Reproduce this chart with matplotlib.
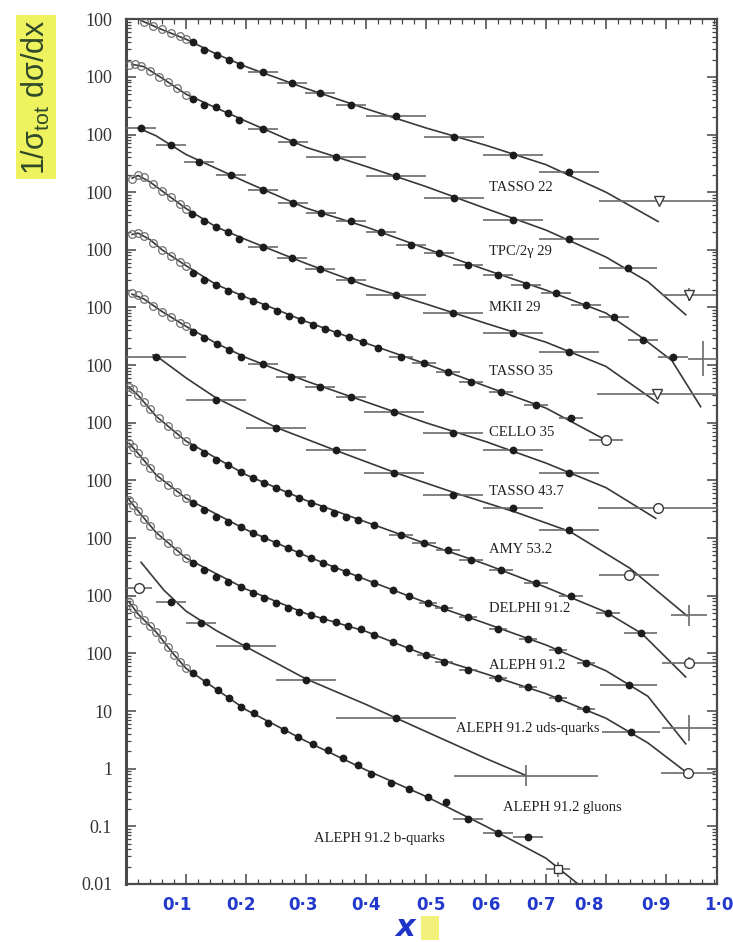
import numpy as np
import matplotlib
matplotlib.use("Agg")
import matplotlib.pyplot as plt
import matplotlib.ticker as ticker
from matplotlib.patches import Rectangle

plt.rcParams['font.family'] = ['Liberation Serif', 'DejaVu Serif']

# ---------------------------------------------------------------------------
# Fragmentation functions 1/sigma dsigma/dx.  Each set is given in its own
# units and is multiplied by 10**k when drawn (k = 11 for the top set ... 0).
# ---------------------------------------------------------------------------
names = ["TASSO 22", "TPC/2γ 29", "MKII 29", "TASSO 35", "CELLO 35",
         "TASSO 43.7", "AMY 53.2", "DELPHI 91.2", "ALEPH 91.2",
         "ALEPH 91.2 uds-quarks", "ALEPH 91.2 gluons", "ALEPH 91.2 b-quarks"]
decade_shift = [11, 10, 9, 8, 7, 6, 5, 4, 3, 2, 1, 0]

# TASSO 22
t22_open_x = [0.03, 0.045, 0.06, 0.075, 0.09, 0.10]
t22_open_y = [89, 75, 67, 57, 51, 45]
t22_x = [0.112, 0.13, 0.152, 0.172, 0.19, 0.228, 0.277, 0.323, 0.375, 0.45, 0.547, 0.645, 0.738]
t22_y = [40, 29, 24, 19.4, 15.8, 12, 7.7, 5.2, 3.3, 2.1, 0.92, 0.45, 0.22]
t22_xerr = [0, 0, 0, 0, 0, 0.025, 0.025, 0.025, 0.025, 0.05, 0.05, 0.05, 0.05]
t22_end_x, t22_end_y, t22_end_xerr = [0.888], [0.069], [0.1]
t22_end_ylo, t22_end_yhi = [0.069], [0.069]
t22_fit_x = [0.015, 0.03, 0.06, 0.1, 0.15, 0.2, 0.3, 0.4, 0.5, 0.6, 0.7, 0.8, 0.887]
t22_fit_y = [110, 90, 66, 45, 25, 15, 6.3, 2.8, 1.3, 0.65, 0.3, 0.1, 0.031]

# TPC/2gamma 29
tpc_open_x = [0.005, 0.015, 0.025, 0.04, 0.055, 0.07, 0.085, 0.1]
tpc_open_y = [160, 170, 155, 125, 100, 80, 63, 48]
tpc_x = [0.112, 0.13, 0.15, 0.17, 0.188, 0.228, 0.278, 0.35, 0.45, 0.547, 0.645, 0.738, 0.837]
tpc_y = [41, 33, 30, 24, 18, 12.3, 7.3, 4.0, 1.9, 0.78, 0.33, 0.157, 0.049]
tpc_xerr = [0, 0, 0, 0, 0, 0.025, 0.025, 0.05, 0.05, 0.05, 0.05, 0.05, 0.048]
tpc_end_x, tpc_end_y, tpc_end_xerr = [0.938], [0.0167], [0.045]
tpc_end_ylo, tpc_end_yhi = [0.0127], [0.022]
tpc_fit_x = [0.01, 0.03, 0.06, 0.1, 0.15, 0.2, 0.3, 0.4, 0.5, 0.6, 0.7, 0.8, 0.87, 0.933]
tpc_fit_y = [165, 150, 95, 50, 29, 17, 6.0, 2.8, 1.25, 0.52, 0.22, 0.075, 0.028, 0.0075]

# MKII 29
mk2_open_x, mk2_open_y = [], []
mk2_x = [0.025, 0.075, 0.122, 0.175, 0.228, 0.278, 0.325, 0.375, 0.425, 0.475,
         0.522, 0.57, 0.62, 0.667, 0.717, 0.767, 0.813, 0.862, 0.912]
mk2_y = [132, 67, 34, 20, 11, 6.6, 4.4, 3.1, 2.0, 1.22,
         0.89, 0.55, 0.37, 0.25, 0.18, 0.11, 0.069, 0.027, 0.014]
mk2_xerr = [0.025] * 19
mk2_end_x, mk2_end_y, mk2_end_xerr = [0.962], [0.013], [0.025]
mk2_end_ylo, mk2_end_yhi = [0.0065], [0.026]
mk2_fit_x = [0.02, 0.05, 0.1, 0.2, 0.3, 0.4, 0.5, 0.6, 0.7, 0.8, 0.86, 0.91, 0.958]
mk2_fit_y = [130, 95, 45, 15, 5.3, 2.5, 1.05, 0.45, 0.2, 0.08, 0.03, 0.012, 0.0019]

# TASSO 35
t35_open_x = [0.01, 0.02, 0.03, 0.045, 0.06, 0.075, 0.09, 0.1]
t35_open_y = [170, 200, 180, 140, 105, 82, 62, 52]
t35_x = [0.11, 0.13, 0.15, 0.17, 0.188, 0.228, 0.277, 0.323, 0.375, 0.45, 0.545, 0.645, 0.738]
t35_y = [41, 32, 25, 20, 15.7, 11.4, 7.3, 4.7, 3.0, 1.67, 0.81, 0.36, 0.17]
t35_xerr = [0, 0, 0, 0, 0, 0.025, 0.025, 0.025, 0.025, 0.05, 0.05, 0.05, 0.05]
t35_end_x, t35_end_y, t35_end_xerr = [0.885], [0.031], [0.1]
t35_end_ylo, t35_end_yhi = [0.031], [0.031]
t35_fit_x = [0.01, 0.02, 0.04, 0.07, 0.1, 0.15, 0.2, 0.3, 0.4, 0.5, 0.6, 0.7, 0.8, 0.887]
t35_fit_y = [175, 195, 150, 88, 52, 25, 15, 5.8, 2.4, 1.15, 0.53, 0.25, 0.095, 0.022]

# CELLO 35
cel_open_x = [0.01, 0.02, 0.03, 0.045, 0.06, 0.075, 0.09, 0.1]
cel_open_y = [190, 196, 175, 132, 100, 79, 62, 53]
cel_x = [0.112, 0.13, 0.15, 0.17, 0.192, 0.212, 0.232, 0.252, 0.272, 0.292, 0.312, 0.332,
         0.352, 0.372, 0.395, 0.42, 0.458, 0.497, 0.537, 0.575, 0.625, 0.683, 0.742]
cel_y = [40, 30, 25, 19.5, 16, 13.1, 10.7, 8.8, 7.2, 6.1, 5.0, 4.3,
         3.6, 3.1, 2.5, 2.0, 1.39, 1.1, 0.76, 0.51, 0.34, 0.2, 0.12]
cel_xerr = [0] * 16 + [0.02] * 7
cel_end_x, cel_end_y, cel_end_xerr = [0.80], [0.05], [0.028]
cel_end_ylo, cel_end_yhi = [0.05], [0.05]
cel_fit_x = [0.01, 0.02, 0.04, 0.06, 0.1, 0.15, 0.2, 0.3, 0.4, 0.5, 0.6, 0.7, 0.8]
cel_fit_y = [185, 195, 150, 100, 53, 25, 15, 5.7, 2.4, 1.05, 0.43, 0.18, 0.05]

# TASSO 43.7
t43_open_x = [0.01, 0.02, 0.03, 0.045, 0.06, 0.075, 0.09, 0.1]
t43_open_y = [175, 162, 138, 108, 85, 67, 53, 47]
t43_x = [0.112, 0.13, 0.152, 0.172, 0.192, 0.228, 0.275, 0.323, 0.375, 0.447, 0.545, 0.645, 0.738]
t43_y = [38, 30, 23.5, 18.5, 14, 10.5, 6.3, 4.2, 2.8, 1.55, 0.67, 0.34, 0.135]
t43_xerr = [0, 0, 0, 0, 0, 0.025, 0.025, 0.025, 0.025, 0.05, 0.05, 0.05, 0.05]
t43_end_x, t43_end_y, t43_end_xerr = [0.887], [0.033], [0.1]
t43_end_ylo, t43_end_yhi = [0.033], [0.033]
t43_fit_x = [0.01, 0.03, 0.06, 0.1, 0.15, 0.2, 0.3, 0.4, 0.5, 0.6, 0.7, 0.8, 0.883]
t43_fit_y = [170, 140, 85, 47, 24, 13.5, 5.3, 2.3, 1.0, 0.47, 0.2, 0.075, 0.022]

# AMY 53.2
amy_open_x, amy_open_y = [], []
amy_x = [0.05, 0.15, 0.25, 0.35, 0.447, 0.545, 0.645, 0.738]
amy_y = [139, 25, 8.1, 3.4, 1.34, 0.56, 0.33, 0.137]
amy_xerr = [0.05] * 8
amy_end_x, amy_end_y, amy_end_xerr = [0.838, 0.938], [0.023, 0.0046], [0.05, 0.03]
amy_end_ylo, amy_end_yhi = [0.023, 0.003], [0.023, 0.0069]
amy_fit_x = [0.045, 0.053, 0.1, 0.15, 0.25, 0.35, 0.45, 0.55, 0.65, 0.74, 0.84, 0.935]
amy_fit_y = [150, 138, 60, 27, 8.3, 3.3, 1.35, 0.6, 0.28, 0.13, 0.03, 0.0045]

# DELPHI 91.2
del_open_x = [0.005, 0.012, 0.02, 0.03, 0.04, 0.055, 0.07, 0.085, 0.1]
del_open_y = [420, 380, 300, 225, 170, 120, 88, 65, 48]
del_x = [0.112, 0.13, 0.15, 0.17, 0.192, 0.212, 0.23, 0.25, 0.27, 0.288, 0.308, 0.328, 0.347,
         0.367, 0.387, 0.413, 0.458, 0.497, 0.537, 0.575, 0.625, 0.683, 0.742, 0.803, 0.858]
del_y = [38, 30, 22.6, 18.5, 14, 11, 9.0, 7.4, 6.1, 5.0, 4.1, 3.3, 2.7,
         2.3, 2.05, 1.68, 1.13, 0.82, 0.62, 0.41, 0.28, 0.165, 0.10, 0.05, 0.023]
del_xerr = [0] * 16 + [0.02] * 8 + [0.028]
del_end_x, del_end_y, del_end_xerr = [0.938], [0.0067], [0.045]
del_end_ylo, del_end_yhi = [0.0053], [0.0085]
del_fit_x = [0.005, 0.02, 0.05, 0.1, 0.2, 0.3, 0.4, 0.5, 0.6, 0.7, 0.8, 0.86, 0.933]
del_fit_y = [420, 300, 130, 48, 12.5, 4.5, 1.9, 0.8, 0.35, 0.14, 0.052, 0.022, 0.0039]

# ALEPH 91.2
ale_open_x = [0.005, 0.012, 0.02, 0.03, 0.04, 0.055, 0.07, 0.085, 0.1]
ale_open_y = [440, 375, 295, 214, 162, 113, 82, 62, 49]
ale_x = [0.112, 0.13, 0.15, 0.17, 0.192, 0.212, 0.23, 0.25, 0.27, 0.288, 0.308, 0.328, 0.347,
         0.367, 0.387, 0.413, 0.445, 0.472, 0.503, 0.53, 0.57, 0.62, 0.67, 0.72, 0.767, 0.838]
ale_y = [40, 30.6, 23, 18.9, 15.5, 12.2, 10, 8.2, 6.7, 5.5, 4.5, 3.7, 3.0,
         2.6, 2.1, 1.65, 1.25, 0.98, 0.74, 0.61, 0.42, 0.27, 0.18, 0.113, 0.067, 0.028]
ale_xerr = [0] * 18 + [0.015] * 7 + [0.048]
ale_end_x, ale_end_y, ale_end_xerr = [0.938], [0.005], [0.045]
ale_end_ylo, ale_end_yhi = [0.003], [0.0085]
ale_fit_x = [0.005, 0.02, 0.05, 0.1, 0.2, 0.3, 0.4, 0.5, 0.6, 0.7, 0.8, 0.87, 0.933]
ale_fit_y = [440, 295, 125, 49, 14, 4.9, 1.9, 0.76, 0.33, 0.14, 0.05, 0.018, 0.0027]

# ALEPH 91.2 uds-quarks
uds_open_x = [0.005, 0.012, 0.02, 0.03, 0.04, 0.055, 0.07, 0.085, 0.1]
uds_open_y = [460, 375, 295, 214, 162, 113, 82, 59, 45]
uds_x = [0.112, 0.13, 0.15, 0.17, 0.192, 0.212, 0.23, 0.25, 0.27, 0.288, 0.308, 0.328, 0.35,
         0.37, 0.392, 0.413, 0.445, 0.472, 0.5, 0.53, 0.57, 0.62, 0.67, 0.72, 0.767, 0.842]
uds_y = [37, 28, 21, 17.2, 14.1, 11.1, 9.1, 7.4, 6.1, 5.3, 4.6, 4.0, 3.5,
         3.0, 2.6, 2.06, 1.56, 1.23, 0.93, 0.72, 0.52, 0.38, 0.26, 0.166, 0.11, 0.043]
uds_xerr = [0] * 18 + [0.015] * 7 + [0.048]
uds_end_x, uds_end_y, uds_end_xerr = [0.937], [0.0083], [0.045]
uds_end_ylo, uds_end_yhi = [0.0083], [0.0083]
uds_fit_x = [0.005, 0.02, 0.05, 0.1, 0.2, 0.3, 0.4, 0.5, 0.6, 0.7, 0.8, 0.87, 0.937]
uds_fit_y = [460, 295, 125, 45, 13, 4.9, 2.4, 0.93, 0.44, 0.2, 0.075, 0.028, 0.0082]

# ALEPH 91.2 gluons
glu_open_x, glu_open_y = [], []
glu_x = [0.075, 0.125, 0.2, 0.3, 0.45]
glu_y = [77, 33, 13.3, 3.5, 0.77]
glu_xerr = [0.025, 0.025, 0.05, 0.05, 0.1]
glu_end_x, glu_end_y, glu_end_xerr = [0.022, 0.667], [135, 0.076], [0.022, 0.12]
glu_end_ylo, glu_end_yhi = [135, 0.05], [135, 0.115]
glu_fit_x = [0.025, 0.063, 0.1, 0.15, 0.2, 0.3, 0.4, 0.5, 0.6, 0.667]
glu_fit_y = [380, 125, 54, 25, 13, 3.6, 1.3, 0.44, 0.15, 0.076]

# ALEPH 91.2 b-quarks
bq_open_x = [0.005, 0.012, 0.02, 0.03, 0.04, 0.05, 0.06, 0.07, 0.08, 0.09, 0.1]
bq_open_y = [780, 620, 480, 380, 300, 235, 180, 130, 95, 70, 55]
bq_x = [0.112, 0.133, 0.153, 0.172, 0.192, 0.213, 0.237, 0.263, 0.287, 0.312, 0.337,
        0.362, 0.387, 0.408, 0.442, 0.472, 0.503, 0.533, 0.57, 0.62, 0.67]
bq_y = [45, 31.5, 22.9, 16.6, 11.6, 9.1, 6.3, 4.6, 3.5, 2.7, 2.07,
        1.56, 1.14, 0.82, 0.57, 0.45, 0.32, 0.26, 0.136, 0.078, 0.064]
bq_xerr = [0] * 18 + [0.025] * 3
bq_end_x, bq_end_y, bq_end_xerr = [0.72], [0.018], [0.02]
bq_end_ylo, bq_end_yhi = [0.013], [0.024]
bq_fit_x = [0.005, 0.02, 0.05, 0.08, 0.1, 0.15, 0.2, 0.3, 0.4, 0.5, 0.6, 0.7, 0.78]
bq_fit_y = [780, 480, 235, 95, 55, 24, 10.5, 3.0, 0.95, 0.33, 0.1, 0.028, 0.006]

# axis labelling
ytick_text = ["0.01", "0.1", "1", "10"] + ["100"] * 12
hand_ticks = ["0·1", "0·2", "0·3", "0·4", "0·5", "0·6", "0·7", "0·8", "0·9", "1·0"]

sets = [
    (t22_open_x, t22_open_y, t22_x, t22_y, t22_xerr, t22_fit_x, t22_fit_y,
     t22_end_x, t22_end_y, t22_end_xerr, t22_end_ylo, t22_end_yhi),
    (tpc_open_x, tpc_open_y, tpc_x, tpc_y, tpc_xerr, tpc_fit_x, tpc_fit_y,
     tpc_end_x, tpc_end_y, tpc_end_xerr, tpc_end_ylo, tpc_end_yhi),
    (mk2_open_x, mk2_open_y, mk2_x, mk2_y, mk2_xerr, mk2_fit_x, mk2_fit_y,
     mk2_end_x, mk2_end_y, mk2_end_xerr, mk2_end_ylo, mk2_end_yhi),
    (t35_open_x, t35_open_y, t35_x, t35_y, t35_xerr, t35_fit_x, t35_fit_y,
     t35_end_x, t35_end_y, t35_end_xerr, t35_end_ylo, t35_end_yhi),
    (cel_open_x, cel_open_y, cel_x, cel_y, cel_xerr, cel_fit_x, cel_fit_y,
     cel_end_x, cel_end_y, cel_end_xerr, cel_end_ylo, cel_end_yhi),
    (t43_open_x, t43_open_y, t43_x, t43_y, t43_xerr, t43_fit_x, t43_fit_y,
     t43_end_x, t43_end_y, t43_end_xerr, t43_end_ylo, t43_end_yhi),
    (amy_open_x, amy_open_y, amy_x, amy_y, amy_xerr, amy_fit_x, amy_fit_y,
     amy_end_x, amy_end_y, amy_end_xerr, amy_end_ylo, amy_end_yhi),
    (del_open_x, del_open_y, del_x, del_y, del_xerr, del_fit_x, del_fit_y,
     del_end_x, del_end_y, del_end_xerr, del_end_ylo, del_end_yhi),
    (ale_open_x, ale_open_y, ale_x, ale_y, ale_xerr, ale_fit_x, ale_fit_y,
     ale_end_x, ale_end_y, ale_end_xerr, ale_end_ylo, ale_end_yhi),
    (uds_open_x, uds_open_y, uds_x, uds_y, uds_xerr, uds_fit_x, uds_fit_y,
     uds_end_x, uds_end_y, uds_end_xerr, uds_end_ylo, uds_end_yhi),
    (glu_open_x, glu_open_y, glu_x, glu_y, glu_xerr, glu_fit_x, glu_fit_y,
     glu_end_x, glu_end_y, glu_end_xerr, glu_end_ylo, glu_end_yhi),
    (bq_open_x, bq_open_y, bq_x, bq_y, bq_xerr, bq_fit_x, bq_fit_y,
     bq_end_x, bq_end_y, bq_end_xerr, bq_end_ylo, bq_end_yhi),
]

# marker used for the last (high-x) bins of each set
end_markers = [["v"], ["v"], ["+"], ["v"], ["o"], ["o"], ["o", "+"],
               ["o"], ["+"], ["o"], ["o", "+"], ["s"]]
# where each set's name is written (x, y in the set's own units)
label_pos = [(0.605, 0.12), (0.605, 0.093), (0.605, 0.099), (0.605, 0.077),
             (0.605, 0.069), (0.605, 0.063), (0.605, 0.064), (0.605, 0.061),
             (0.605, 0.062), (0.55, 0.05), (0.628, 0.021), (0.313, 0.061)]

ink = "#1c1c1c"
line_c = "#383838"
bar_c = "#6a6a6a"

fig = plt.figure(figsize=(7.33, 9.42), dpi=100)
ax = fig.add_axes([0.172, 0.0616, 0.806, 0.918])

for i, s in enumerate(sets):
    ox, oy, x, y, xe, fx, fy, ex, ey, exe, eylo, eyhi = s
    scale = 10.0 ** decade_shift[i]

    ax.plot(fx, np.array(fy) * scale, color=line_c, lw=1.2, zorder=2)

    if len(ox):
        ax.plot(ox, np.array(oy) * scale, "o", ms=5.5, mfc="none",
                mec="#707070", mew=0.9, zorder=3)

    ax.errorbar(x, np.array(y) * scale, xerr=xe, fmt="o", ms=4.6,
                color=ink, ecolor=bar_c, elinewidth=1.2, capsize=0, zorder=4)

    for j, m in enumerate(end_markers[i]):
        yv = ey[j] * scale
        yerr = [[yv - eylo[j] * scale], [eyhi[j] * scale - yv]]
        ax.errorbar([ex[j]], [yv], xerr=[exe[j]], yerr=yerr, fmt="none",
                    ecolor=bar_c, elinewidth=1.2, capsize=0, zorder=4)
        if m == "+":
            continue
        ax.plot([ex[j]], [yv], m, ms=7 if m != "s" else 6, mfc="white",
                mec=line_c, mew=1.0, zorder=5)

    lx, ly = label_pos[i]
    ax.text(lx, ly * scale, names[i], fontsize=10.5, color="#222222",
            ha="left", va="center", zorder=6)

ax.set_yscale("log")
ax.set_xlim(0.0, 0.985)
ax.set_ylim(1e-2, 1e13)

ax.set_yticks([10.0 ** e for e in range(-2, 14)])
ax.set_yticklabels(ytick_text)
ax.yaxis.set_minor_locator(ticker.LogLocator(base=10, subs=np.arange(2, 10), numticks=100))
ax.yaxis.set_minor_formatter(ticker.NullFormatter())
ax.xaxis.set_major_locator(ticker.MultipleLocator(0.1))
ax.xaxis.set_minor_locator(ticker.MultipleLocator(0.02))
ax.set_xticklabels([])

ax.tick_params(which="both", direction="in", top=True, right=True, color="#444444")
ax.tick_params(which="major", length=7, width=1.1)
ax.tick_params(which="minor", length=3.5, width=0.9)
ax.tick_params(axis="y", which="major", labelsize=13, labelcolor="#333333", pad=10)

for side, sp in ax.spines.items():
    sp.set_color("#4a4a4a")
    sp.set_linewidth(2.2 if side == "left" else 1.6)

# hand-written x tick values
hand_pos = [0.085, 0.192, 0.295, 0.4, 0.508, 0.6, 0.692, 0.772, 0.883, 0.988]
for p, t in zip(hand_pos, hand_ticks):
    ax.text(p, -0.024, t, transform=ax.get_xaxis_transform(), ha="center",
            va="center", fontsize=12, fontweight="bold", color="#2338cc",
            family="DejaVu Sans", clip_on=False)

# axis titles with highlighter marks
fig.patches.append(Rectangle((421 / 733, 2 / 942), 18 / 733, 24 / 942,
                             transform=fig.transFigure, fc="#f2f07a", ec="none", zorder=0))
fig.text(405 / 733, 1 - 928 / 942, "x", color="#1f34c8", fontsize=22,
         fontweight="bold", style="italic", family="DejaVu Sans",
         ha="center", va="center")

fig.text(0.049, 0.897, "1/σ$_{\\mathregular{tot}}$ dσ/dx", rotation=90,
         fontsize=22, color="#2f4a2a", family="Liberation Sans",
         ha="center", va="center",
         bbox=dict(boxstyle="square,pad=0.12", fc="#eef25e", ec="none"))

fig.savefig("out.png", dpi=100, facecolor="white")
